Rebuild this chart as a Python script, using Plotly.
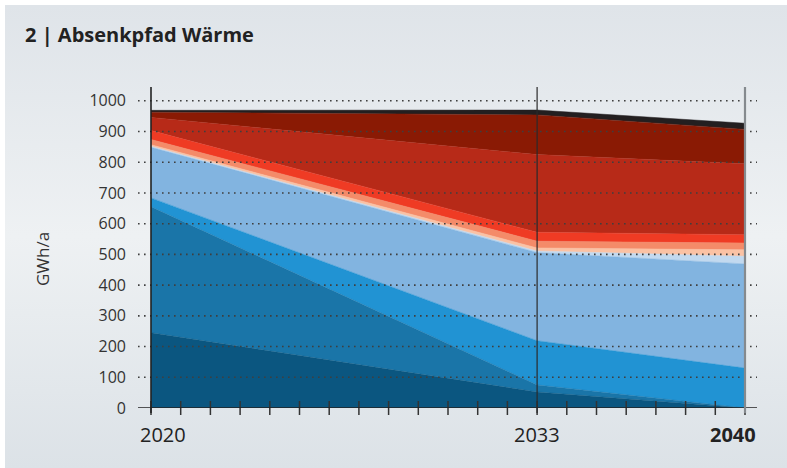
import base64
import plotly.graph_objects as go

# Stützjahre des Absenkpfads
jahre = [2020, 2033, 2040]

# Wärmebedarf je Schicht in GWh/a (von unten nach oben gestapelt)
schicht_01 = [245, 52, 0]
schicht_02 = [410, 23, 0]
schicht_03 = [29, 144, 130]
schicht_04 = [165, 287, 339]
schicht_05 = [3, 5, 25]
schicht_06 = [5, 10, 21]
schicht_07 = [17, 22, 22]
schicht_08 = [29, 29, 27]
schicht_09 = [43, 253, 231]
schicht_10 = [17, 129, 112]
schicht_11 = [6, 16, 20]

schichten = [schicht_01, schicht_02, schicht_03, schicht_04, schicht_05, schicht_06,
             schicht_07, schicht_08, schicht_09, schicht_10, schicht_11]
farben = ["#0b5680", "#1a75a8", "#2193d3", "#82b4e0", "#c2d9ef", "#fbc2a4",
          "#f48b69", "#ef3b24", "#b72a18", "#8a1a04", "#231f20"]

y_ticks = [0, 100, 200, 300, 400, 500, 600, 700, 800, 900, 1000]
x_jahresticks = list(range(2020, 2041))
x_labels = ["2020", "2033", "2040"]
markierte_jahre = [2020, 2033, 2040]

W, H = 787, 468
L, R, T, B = 138, 30, 87, 60
pw, ph = W - L - R, H - T - B

def px_x(px):
    return (px - L) / pw

def px_y(py):
    return (H - B - py) / ph

fig = go.Figure()

for werte, farbe in zip(schichten, farben):
    fig.add_trace(go.Scatter(
        x=jahre, y=werte, mode="lines", stackgroup="a",
        line=dict(width=0.5, color=farbe), fillcolor=farbe,
        hoverinfo="skip", showlegend=False,
    ))

# Jahresstriche auf der Grundlinie
fig.add_trace(go.Scatter(
    x=x_jahresticks, y=[0] * len(x_jahresticks), mode="markers",
    marker=dict(symbol="line-ns", size=10, line=dict(width=1.5, color="#333333")),
    cliponaxis=False, hoverinfo="skip", showlegend=False,
))

shapes = []
# gepunktete Hilfslinien über den Flächen
for v in y_ticks[1:]:
    shapes.append(dict(type="line", xref="paper", yref="y", x0=0, x1=1, y0=v, y1=v,
                       line=dict(color="#3f3f3f", width=1.6, dash="1.6px,4.4px"),
                       layer="above"))
# Grundlinie
shapes.append(dict(type="line", xref="paper", yref="y", x0=0, x1=1, y0=0, y1=0,
                   line=dict(color="#222222", width=1.5), layer="above"))
# senkrechte Linien an den Stützjahren
linien_stil = {2020: ("#222222", 1.6), 2033: ("#2a2a2a", 1.2), 2040: ("#858a8e", 2.2)}
for j in markierte_jahre:
    c, w = linien_stil[j]
    shapes.append(dict(type="line", xref="x", yref="paper", x0=j, x1=j,
                       y0=px_y(413), y1=1, line=dict(color=c, width=w), layer="above"))

annotations = []
x_shift = {2020: 12, 2033: 0, 2040: -12}
for j, t in zip(markierte_jahre, x_labels):
    annotations.append(dict(
        x=j, xref="x", y=px_y(434), yref="paper", text=f"<b>{t}</b>" if j == 2040 else t,
        showarrow=False, xanchor="center", yanchor="middle", xshift=x_shift[j],
        font=dict(family="Open Sans", size=20, color="#222222"),
    ))
annotations.append(dict(
    x=px_x(42), xref="paper", y=px_y(259), yref="paper", text="GWh/a",
    textangle=-90, showarrow=False, xanchor="center", yanchor="middle",
    font=dict(family="Open Sans", size=17, color="#333333"),
))

# Hintergrund mit senkrechtem Farbverlauf
svg = (
    '<svg xmlns="http://www.w3.org/2000/svg" width="100" height="100" '
    'viewBox="0 0 100 100" preserveAspectRatio="none">'
    '<defs><linearGradient id="g" x1="0" y1="0" x2="0" y2="1">'
    '<stop offset="0" stop-color="#dfe4e9"/>'
    '<stop offset="0.5" stop-color="#eef1f3"/>'
    '<stop offset="1" stop-color="#dce2e7"/>'
    '</linearGradient></defs>'
    '<rect width="100" height="100" fill="url(#g)"/></svg>'
)
bg_src = "data:image/svg+xml;base64," + base64.b64encode(svg.encode()).decode()

fig.update_layout(
    width=W, height=H, autosize=False,
    margin=dict(l=L, r=R, t=T, b=B),
    paper_bgcolor="#ffffff", plot_bgcolor="rgba(0,0,0,0)",
    showlegend=False, hovermode=False,
    title=dict(text="<b>2 | Absenkpfad Wärme</b>", x=25 / W, xanchor="left",
               y=1 - 35 / H, yanchor="middle",
               font=dict(family="Open Sans", size=20, color="#222222")),
    xaxis=dict(range=[2020 - 13 / 29.7, 2040 + 12 / 29.7], showgrid=False,
               zeroline=False, showline=False, showticklabels=False, fixedrange=True),
    yaxis=dict(range=[0, 1045], tickvals=y_ticks, showgrid=False, zeroline=False,
               showline=False, ticks="", ticklabelstandoff=11,
               tickfont=dict(family="Open Sans", size=16, color="#333333"),
               fixedrange=True),
    shapes=shapes,
    annotations=annotations,
    images=[dict(source=bg_src, xref="paper", yref="paper",
                 x=px_x(5), y=px_y(5), sizex=(W - 5) / pw, sizey=(H - 5) / ph,
                 xanchor="left", yanchor="top", sizing="stretch", layer="below")],
)

fig.write_html("out.html")
